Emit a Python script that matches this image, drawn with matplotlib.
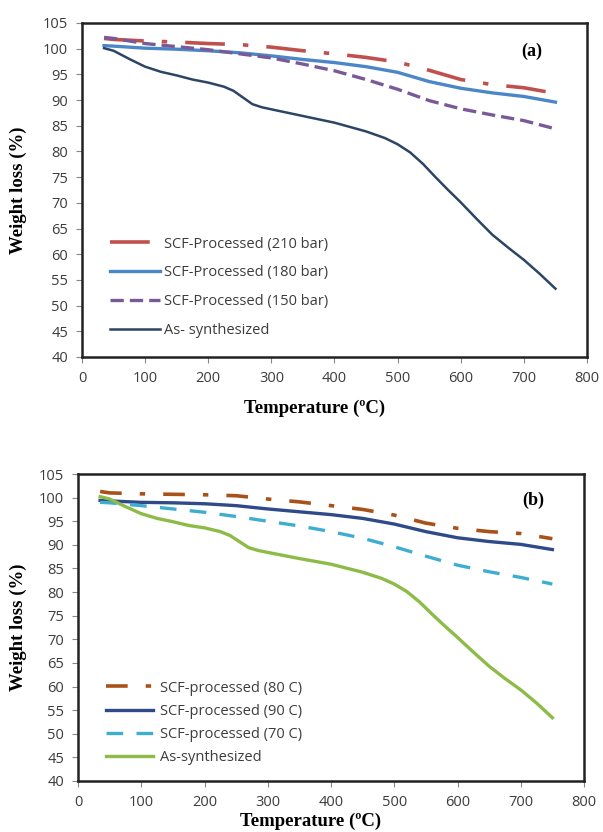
import matplotlib
matplotlib.use("Agg")
import matplotlib.pyplot as plt

# TGA curves, panel (a): pressure series
temp_a = [35, 50, 100, 150, 200, 250, 300, 350, 400, 450, 500, 550, 600, 650, 700, 750]
p210 = [102.0, 101.8, 101.5, 101.3, 101.0, 100.8, 100.3, 99.6, 99.0, 98.3, 97.4, 95.8, 94.0, 93.0, 92.4, 91.3]
p180 = [100.6, 100.5, 100.1, 99.9, 99.6, 99.2, 98.6, 97.9, 97.3, 96.5, 95.4, 93.6, 92.3, 91.4, 90.7, 89.6]
p150 = [102.2, 102.0, 101.0, 100.4, 99.8, 99.0, 98.2, 97.0, 95.7, 94.0, 92.1, 89.9, 88.3, 87.1, 86.0, 84.4]

# as-synthesized sample, read at a finer step around the bends
temp_as = [35, 50, 75, 100, 125, 150, 175, 200, 225, 240, 255, 270, 285, 300, 350, 400,
           450, 480, 500, 520, 540, 560, 580, 600, 625, 650, 675, 700, 725, 750]
as_syn_a = [100.1, 99.6, 98.0, 96.5, 95.5, 94.8, 94.0, 93.4, 92.6, 91.8, 90.5, 89.2, 88.6, 88.2, 86.9, 85.6,
            83.9, 82.6, 81.4, 79.8, 77.6, 75.0, 72.5, 70.1, 66.9, 63.8, 61.3, 58.9, 56.2, 53.3]
as_syn_b = [100.2, 99.7, 98.1, 96.6, 95.6, 94.9, 94.1, 93.6, 92.8, 92.0, 90.7, 89.4, 88.8, 88.4, 87.1, 85.9,
            84.2, 82.9, 81.7, 80.1, 77.9, 75.3, 72.8, 70.4, 67.3, 64.3, 61.7, 59.3, 56.5, 53.4]

# panel (b): temperature series
temp_b = [35, 50, 100, 150, 200, 250, 300, 350, 400, 450, 500, 550, 600, 650, 700, 750]
t80 = [101.3, 101.0, 100.8, 100.7, 100.6, 100.4, 99.7, 99.1, 98.3, 97.5, 96.3, 94.6, 93.5, 92.8, 92.4, 91.3]
t90 = [99.4, 99.3, 99.0, 98.9, 98.7, 98.3, 97.6, 97.0, 96.4, 95.6, 94.4, 92.8, 91.5, 90.7, 90.1, 89.0]
t70 = [99.0, 98.9, 98.3, 97.6, 96.9, 96.0, 95.0, 94.0, 92.8, 91.4, 89.6, 87.6, 85.7, 84.3, 83.1, 81.7]

xticks = list(range(0, 801, 100))
yticks = list(range(40, 106, 5))

sans = ["Open Sans", "DejaVu Sans"]
serif = "Liberation Serif"
tick_col = "#3c3c3c"

fig = plt.figure(figsize=(6.03, 8.32), dpi=100)
ax_a = fig.add_axes([82/603, 1-357/832, 505/603, 334/832])
ax_b = fig.add_axes([78/603, 1-781/832, 506/603, 307/832])

ax_a.plot(temp_a, p210, color="#c0504d", lw=2.6, dashes=(11, 5, 1.5, 5), label="SCF-Processed (210 bar)")
ax_a.plot(temp_a, p180, color="#4a86c8", lw=2.4, label="SCF-Processed (180 bar)")
ax_a.plot(temp_a, p150, color="#7a5a96", lw=2.4, dashes=(4, 1.8), label="SCF-Processed (150 bar)")
ax_a.plot(temp_as, as_syn_a, color="#2c4565", lw=1.8, label="As- synthesized")

ax_b.plot(temp_b, t80, color="#a8521a", lw=2.6, dashes=(6, 5, 1.5, 5), label="SCF-processed (80 C)")
ax_b.plot(temp_b, t90, color="#2e4a88", lw=2.4, label="SCF-processed (90 C)")
ax_b.plot(temp_b, t70, color="#3daed0", lw=2.4, dashes=(5, 4), label="SCF-processed (70 C)")
ax_b.plot(temp_as, as_syn_b, color="#8dbb48", lw=2.4, label="As-synthesized")

for ax, tag in [(ax_a, "(a)"), (ax_b, "(b)")]:
    ax.set_xlim(0, 800)
    ax.set_ylim(40, 105)
    ax.set_xticks(xticks)
    ax.set_yticks(yticks)
    ax.tick_params(direction="out", length=4, width=0.8, color="#888888",
                   labelcolor=tick_col, labelsize=10.5, pad=6)
    for lab in ax.get_xticklabels() + ax.get_yticklabels():
        lab.set_family(sans)
    for sp in ax.spines.values():
        sp.set_linewidth(1.8)
        sp.set_color("#222222")
    ax.set_xlabel("Temperature (ºC)", family=serif, weight="bold", fontsize=13.5)
    ax.set_ylabel("Weight loss (%)", family=serif, weight="bold", fontsize=13.5)
    ax.text(0.89 if tag == "(a)" else 0.9, 0.915, tag, transform=ax.transAxes,
            family=serif, weight="bold", fontsize=13, ha="center", va="center")

ax_a.legend(loc="upper left", bbox_to_anchor=(0.03, 0.40), frameon=False,
            handlelength=3.4, handletextpad=0.3, labelspacing=0.95,
            prop={"family": sans, "size": 10.5}, labelcolor=tick_col)
ax_b.legend(loc="upper left", bbox_to_anchor=(0.03, 0.37), frameon=False,
            handlelength=3.2, handletextpad=0.5, labelspacing=0.57,
            prop={"family": sans, "size": 10.5}, labelcolor=tick_col)

ax_a.xaxis.set_label_coords(0.46, -0.127)
ax_b.xaxis.set_label_coords(0.46, -0.103)
ax_a.yaxis.set_label_coords(-0.109, 0.5)
ax_b.yaxis.set_label_coords(-0.101, 0.5)

fig.savefig("out.png", dpi=100)
